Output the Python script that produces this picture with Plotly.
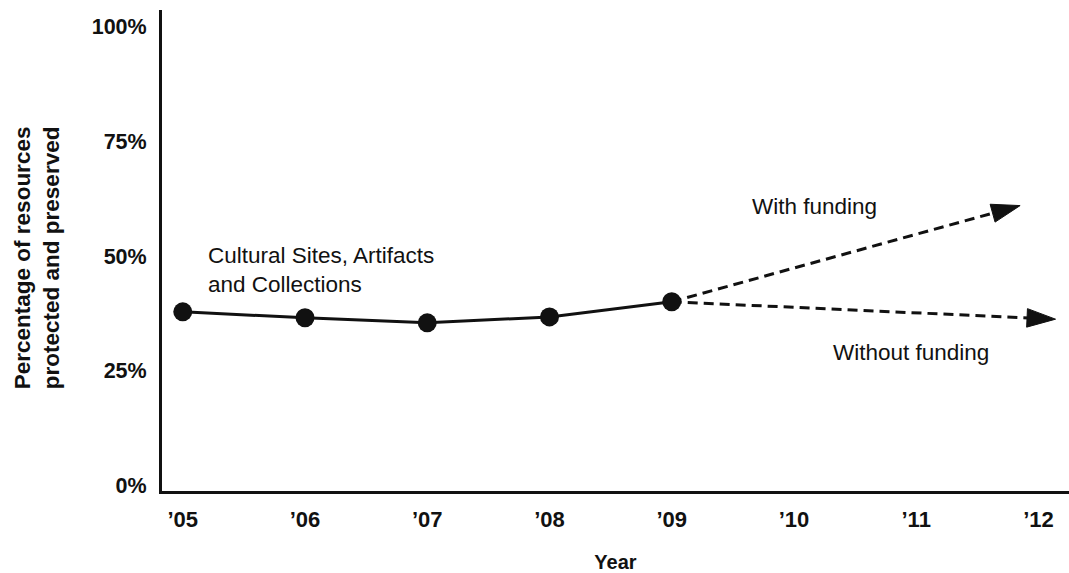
import plotly.graph_objects as go

years = [2005, 2006, 2007, 2008, 2009]
values = [37.8, 36.5, 35.4, 36.7, 40.0]

with_years = [2009, 2011.85]
with_values = [40.0, 61.0]
without_years = [2009, 2012.14]
without_values = [40.0, 36.2]

tick_years = [2005, 2006, 2007, 2008, 2009, 2010, 2011, 2012]
tick_labels = ["\u201905", "\u201906", "\u201907", "\u201908", "\u201909", "\u201910", "\u201911", "\u201912"]
y_ticks = [0, 25, 50, 75, 100]
y_labels = ["0%", "25%", "50%", "75%", "100%"]

FONT = "Liberation Sans"
INK = "#111111"

fig = go.Figure()

for xs, ys in [(with_years, with_values), (without_years, without_values)]:
    fig.add_trace(go.Scatter(
        x=xs, y=ys, mode="lines+markers",
        line=dict(color=INK, width=3, dash="10px,6px"),
        marker=dict(symbol=["circle", "arrow"], size=[0, 30], color=INK, opacity=1,
                    angleref="previous", line=dict(width=1, color=INK)),
        hoverinfo="skip", showlegend=False,
    ))

fig.add_trace(go.Scatter(
    x=years, y=values, mode="lines+markers",
    line=dict(color=INK, width=3),
    marker=dict(symbol="circle", size=19, color=INK),
    showlegend=False,
))

ann_font = dict(family=FONT, size=22.5, color=INK)
fig.add_annotation(x=2005.19, y=46.9, xref="x", yref="y", text="Cultural Sites, Artifacts<br>and Collections",
                   showarrow=False, xanchor="left", yanchor="middle", align="left", font=ann_font)
fig.add_annotation(x=2010.17, y=60.9, xref="x", yref="y", text="With funding",
                   showarrow=False, xanchor="center", yanchor="middle", font=ann_font)
fig.add_annotation(x=2010.96, y=29.0, xref="x", yref="y", text="Without funding",
                   showarrow=False, xanchor="center", yanchor="middle", font=ann_font)
# y-axis title as a rotated annotation for exact placement
fig.add_annotation(x=0, y=0.484, xref="paper", yref="paper", xshift=-125,
                   text="<b>Percentage of resources<br>protected and preserved</b>",
                   textangle=-90, showarrow=False, xanchor="center", yanchor="middle",
                   font=dict(family=FONT, size=22.5, color=INK))

fig.update_layout(
    width=1069, height=573,
    margin=dict(l=162, r=0, t=10, b=82),
    paper_bgcolor="white", plot_bgcolor="white",
    font=dict(family=FONT, color=INK),
    xaxis=dict(
        range=[2004.83, 2012.25], tickvals=tick_years, ticktext=tick_labels,
        showgrid=False, zeroline=False, showline=True, linewidth=3, linecolor=INK,
        ticks="outside", ticklen=7, tickcolor="rgba(0,0,0,0)", automargin=False,
        tickfont=dict(family=FONT, size=22, color=INK, weight="bold"),
        title=dict(text="<b>Year</b>", font=dict(family=FONT, size=20, color=INK), standoff=26),
    ),
    yaxis=dict(
        range=[-1.31, 103.7], tickvals=y_ticks, ticktext=y_labels,
        showgrid=False, zeroline=False, showline=True, linewidth=3, linecolor=INK,
        ticks="outside", ticklen=8, tickcolor="rgba(0,0,0,0)", automargin=False,
        tickfont=dict(family=FONT, size=21.5, color=INK, weight="bold"),
    ),
)

fig.write_html("out.html", config={"displayModeBar": False},
               post_script="document.body.style.margin='0';document.body.style.padding='0';")
